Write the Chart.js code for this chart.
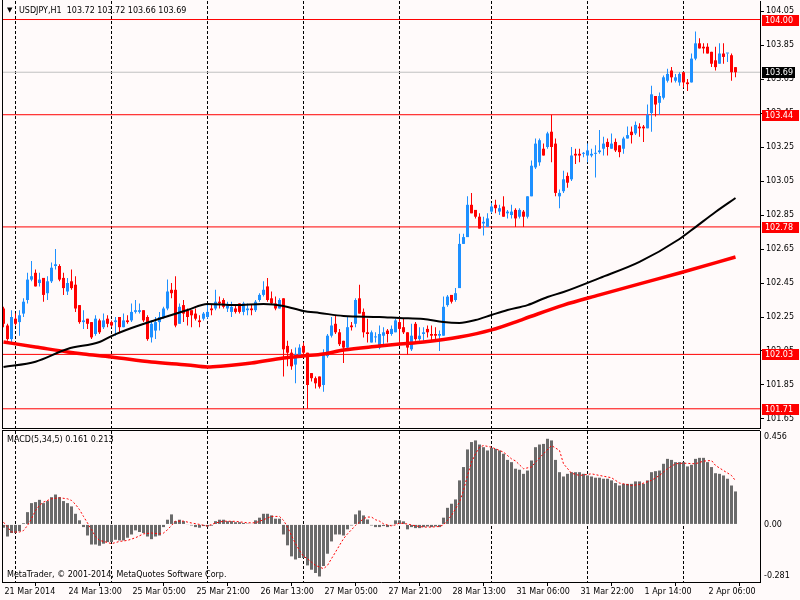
<!DOCTYPE html>
<html>
<head>
<meta charset="utf-8">
<title>USDJPY,H1</title>
<script src="https://cdn.jsdelivr.net/npm/chart.js@4.4.1/dist/chart.umd.min.js"></script>
<style>
  html, body { margin: 0; padding: 0; background: #fffafa; }
  #wrap { position: relative; width: 800px; height: 600px; overflow: hidden; background: #fffafa; font-family: "DejaVu Sans", sans-serif; }
  canvas { position: absolute; left: 0; }
  #main { top: 0; }
  #macd { top: 429px; }
  .lbl { position: absolute; font-size: 8px; line-height: 12px; color: #000; white-space: pre; }
</style>
</head>
<body>
<div id="wrap">
  <canvas id="main" width="800" height="430"></canvas>
  <canvas id="macd" width="800" height="171"></canvas>
  <div class="lbl" style="left:7px;top:4px;font-size:7px">▼</div>
  <div class="lbl" style="left:19px;top:5px">USDJPY,H1  103.72 103.72 103.66 103.69</div>
  <div class="lbl" style="left:7px;top:434px">MACD(5,34,5) 0.161 0.213</div>
  <div class="lbl" style="left:7px;top:569px">MetaTrader, © 2001-2014, MetaQuotes Software Corp.</div>
</div>
<script>
// hourly bars, 21 Mar 2014 20:00 .. 2 Apr 2014 13:00
const opens = [
  102.30,102.20,102.12,102.24,102.22,102.27,102.35,102.47,102.51,102.45,
  102.48,102.39,102.46,102.55,102.55,102.48,102.40,102.46,102.44,102.32,
  102.22,102.24,102.22,102.15,102.23,102.19,102.24,102.22,102.22,102.25,
  102.19,102.23,102.23,102.28,102.28,102.29,102.25,102.13,102.17,102.22,
  102.25,102.30,102.41,102.41,102.21,102.32,102.29,102.29,102.27,102.23,
  102.24,102.25,102.30,102.30,102.34,102.35,102.30,102.28,102.30,102.33,
  102.28,102.29,102.30,102.29,102.35,102.38,102.43,102.36,102.33,102.30,
  102.36,102.08,102.04,101.97,102.02,102.08,102.04,101.92,101.89,101.90,
  101.85,102.02,102.14,102.21,102.16,102.11,102.07,102.20,102.21,102.36,
  102.28,102.16,102.10,102.13,102.07,102.14,102.17,102.15,102.16,102.22,
  102.19,102.16,102.06,102.21,102.12,102.15,102.18,102.15,102.15,102.14,
  102.14,102.32,102.38,102.35,102.42,102.68,102.72,102.91,102.88,102.84,
  102.80,102.78,102.87,102.91,102.87,102.90,102.86,102.85,102.88,102.84,
  102.87,102.84,102.96,103.13,103.16,103.24,103.25,103.34,103.27,102.96,
  102.99,103.08,103.06,103.21,103.21,103.21,103.20,103.20,103.21,103.22,
  103.24,103.28,103.24,103.28,103.26,103.24,103.30,103.34,103.33,103.37,
  103.37,103.36,103.45,103.55,103.51,103.54,103.64,103.70,103.64,103.63,
  103.69,103.63,103.63,103.77,103.86,103.84,103.84,103.81,103.76,103.74,
  103.80,103.80,103.79,103.72
];
const highs = [
  102.31,102.21,102.29,102.27,102.29,102.36,102.51,102.58,102.53,102.51,
  102.48,102.49,102.57,102.65,102.56,102.51,102.48,102.53,102.49,102.32,
  102.29,102.24,102.22,102.26,102.24,102.27,102.26,102.23,102.25,102.25,
  102.27,102.26,102.33,102.35,102.33,102.29,102.26,102.23,102.25,102.28,
  102.31,102.47,102.45,102.49,102.33,102.35,102.30,102.29,102.30,102.26,
  102.28,102.33,102.32,102.41,102.37,102.36,102.34,102.34,102.32,102.33,
  102.34,102.33,102.32,102.35,102.39,102.46,102.48,102.40,102.37,102.36,
  102.36,102.11,102.06,102.07,102.09,102.10,102.04,101.92,101.90,101.90,
  102.06,102.15,102.25,102.26,102.18,102.11,102.25,102.22,102.36,102.44,
  102.30,102.24,102.17,102.16,102.20,102.19,102.18,102.20,102.24,102.24,
  102.24,102.16,102.21,102.22,102.19,102.19,102.20,102.20,102.19,102.17,
  102.37,102.38,102.38,102.42,102.74,102.74,102.96,102.98,102.88,102.86,
  102.84,102.86,102.92,102.94,102.91,102.96,102.88,102.91,102.89,102.89,
  102.88,102.96,103.17,103.30,103.30,103.27,103.34,103.44,103.30,103.00,
  103.11,103.10,103.25,103.24,103.24,103.22,103.27,103.24,103.26,103.35,
  103.31,103.30,103.33,103.30,103.26,103.31,103.37,103.37,103.40,103.39,
  103.38,103.50,103.61,103.55,103.57,103.67,103.71,103.72,103.68,103.69,
  103.69,103.65,103.80,103.93,103.89,103.86,103.86,103.81,103.84,103.86,
  103.86,103.80,103.80,103.72
];
const lows = [
  102.19,102.11,102.10,102.20,102.14,102.25,102.33,102.46,102.43,102.43,
  102.34,102.35,102.45,102.53,102.46,102.38,102.38,102.41,102.28,102.21,
  102.18,102.18,102.12,102.14,102.15,102.18,102.19,102.19,102.14,102.16,
  102.19,102.21,102.22,102.27,102.27,102.22,102.11,102.10,102.12,102.17,
  102.24,102.29,102.36,102.19,102.21,102.22,102.20,102.19,102.23,102.19,
  102.23,102.24,102.26,102.29,102.30,102.30,102.28,102.25,102.27,102.27,
  102.26,102.26,102.26,102.28,102.34,102.37,102.34,102.32,102.29,102.30,
  101.90,101.96,101.94,101.86,102.01,102.03,101.71,101.87,101.83,101.83,
  101.81,102.01,102.13,102.15,102.08,101.98,102.06,102.17,102.19,102.27,
  102.13,102.10,102.10,102.10,102.06,102.08,102.10,102.14,102.16,102.10,
  102.15,102.03,102.05,102.11,102.11,102.11,102.13,102.11,102.11,102.05,
  102.14,102.31,102.33,102.34,102.42,102.68,102.72,102.86,102.83,102.77,
  102.73,102.78,102.86,102.86,102.85,102.84,102.83,102.83,102.78,102.83,
  102.78,102.83,102.96,103.12,103.14,103.20,103.24,103.16,102.96,102.89,
  102.98,103.01,103.05,103.15,103.16,103.19,103.16,103.19,103.07,103.21,
  103.20,103.20,103.24,103.22,103.19,103.21,103.30,103.27,103.32,103.31,
  103.28,103.36,103.34,103.43,103.44,103.53,103.63,103.63,103.63,103.61,
  103.60,103.58,103.63,103.76,103.83,103.80,103.80,103.72,103.70,103.74,
  103.74,103.75,103.64,103.66
];
const closes = [
  102.21,102.12,102.25,102.21,102.26,102.34,102.47,102.49,102.43,102.47,
  102.38,102.46,102.54,102.56,102.47,102.42,102.45,102.42,102.30,102.22,
  102.23,102.21,102.13,102.24,102.16,102.23,102.21,102.20,102.23,102.19,
  102.23,102.22,102.28,102.29,102.29,102.23,102.12,102.21,102.22,102.25,
  102.30,102.40,102.39,102.20,102.31,102.27,102.25,102.26,102.24,102.22,
  102.27,102.28,102.29,102.34,102.33,102.31,102.32,102.31,102.28,102.28,
  102.33,102.30,102.29,102.34,102.38,102.41,102.35,102.33,102.30,102.35,
  102.06,102.04,101.96,102.03,102.07,102.04,101.85,101.89,101.86,101.84,
  102.04,102.14,102.20,102.16,102.09,102.07,102.19,102.19,102.35,102.27,
  102.16,102.15,102.16,102.13,102.15,102.16,102.15,102.18,102.23,102.18,
  102.16,102.07,102.14,102.12,102.14,102.16,102.16,102.14,102.14,102.15,
  102.31,102.37,102.34,102.39,102.68,102.72,102.91,102.86,102.84,102.77,
  102.81,102.83,102.90,102.89,102.89,102.84,102.87,102.87,102.83,102.88,
  102.84,102.96,103.14,103.27,103.29,103.20,103.33,103.25,102.98,102.98,
  103.06,103.04,103.20,103.20,103.20,103.21,103.23,103.21,103.21,103.23,
  103.27,103.25,103.27,103.23,103.22,103.30,103.32,103.32,103.38,103.36,
  103.36,103.44,103.56,103.50,103.55,103.66,103.68,103.66,103.66,103.68,
  103.63,103.62,103.77,103.86,103.83,103.83,103.80,103.74,103.72,103.80,
  103.78,103.80,103.69,103.69
];

// moving averages, read as [bar, price]
const maBlack = [
  [0,101.956],[8,101.987],[16,102.062],[24,102.103],[27,102.138],[32,102.185],
  [38,102.232],[46,102.291],[51,102.326],[58,102.320],[65,102.326],[70,102.315],
  [75,102.285],[79,102.274],[85,102.256],[94,102.250],[99,102.244],[105,102.238],
  [110,102.220],[114,102.215],[118,102.232],[122,102.262],[126,102.291],[131,102.320],
  [136,102.368],[140,102.397],[149,102.479],[159,102.574],[169,102.709],[173,102.779],
  [178,102.868],[183,102.950]
];
const maRed = [
  [0,102.103],[8,102.074],[16,102.044],[20,102.032],[27,102.015],[37,101.985],
  [46,101.968],[51,101.956],[55,101.962],[62,101.979],[70,102.009],[75,102.021],
  [80,102.032],[85,102.056],[94,102.079],[99,102.091],[105,102.103],[114,102.132],
  [122,102.174],[130,102.238],[140,102.320],[149,102.380],[159,102.445],[169,102.509],
  [183,102.603]
];

// MACD(5,34,5)
const macdHist = [
  -0.016,-0.059,-0.042,-0.042,-0.033,0.006,0.060,0.104,0.109,0.120,
  0.104,0.114,0.133,0.146,0.133,0.114,0.104,0.088,0.052,0.020,
  -0.013,-0.054,-0.098,-0.098,-0.104,-0.094,-0.086,-0.086,-0.075,-0.078,
  -0.078,-0.065,-0.049,-0.029,-0.037,-0.042,-0.059,-0.072,-0.059,-0.054,
  -0.013,0.023,0.049,0.016,0.023,0.016,-0.002,-0.005,-0.013,-0.016,
  -0.008,-0.010,-0.006,0.016,0.023,0.023,0.016,0.016,0.011,0.011,
  0.007,0.004,0.003,0.020,0.033,0.052,0.052,0.044,0.028,0.028,
  -0.049,-0.102,-0.156,-0.171,-0.164,-0.164,-0.200,-0.221,-0.237,-0.254,
  -0.203,-0.143,-0.083,-0.049,-0.049,-0.054,-0.024,-0.005,0.049,0.068,
  0.044,0.024,-0.005,-0.013,-0.013,-0.008,-0.013,-0.005,0.020,0.020,
  0.015,-0.024,-0.013,-0.018,-0.018,-0.013,-0.010,-0.013,-0.010,-0.013,
  0.033,0.081,0.101,0.122,0.215,0.280,0.366,0.402,0.410,0.390,
  0.377,0.361,0.374,0.369,0.361,0.345,0.315,0.304,0.272,0.267,
  0.247,0.263,0.312,0.377,0.390,0.393,0.418,0.410,0.315,0.255,
  0.234,0.247,0.255,0.255,0.255,0.247,0.239,0.234,0.228,0.228,
  0.223,0.223,0.215,0.202,0.190,0.198,0.198,0.198,0.210,0.210,
  0.198,0.215,0.255,0.260,0.263,0.296,0.320,0.315,0.304,0.304,
  0.304,0.283,0.291,0.320,0.325,0.325,0.304,0.280,0.250,0.247,
  0.239,0.223,0.190,0.161
];
const macdSignal = [
  [0,0.011],[2,-0.037],[4,-0.037],[5,-0.030],[6,-0.005],[7,0.028],[8,0.068],[9,0.093],
  [10,0.109],[12,0.125],[14,0.130],[16,0.125],[17,0.117],[18,0.098],[19,0.072],[20,0.039],
  [21,0.007],[22,-0.026],[23,-0.059],[24,-0.078],[26,-0.088],[27,-0.094],[29,-0.083],
  [31,-0.078],[33,-0.065],[35,-0.046],[37,-0.042],[39,-0.046],[40,-0.042],[41,-0.026],
  [42,-0.005],[43,0.016],[45,0.016],[47,0.007],[49,0.000],[51,-0.008],[53,0.007],
  [55,0.016],[58,0.015],[61,0.008],[63,0.008],[65,0.023],[67,0.039],[69,0.039],
  [70,0.020],[71,-0.013],[72,-0.054],[73,-0.094],[74,-0.127],[75,-0.156],[76,-0.167],
  [77,-0.184],[78,-0.200],[79,-0.208],[80,-0.216],[81,-0.200],[82,-0.167],[83,-0.135],
  [84,-0.102],[85,-0.070],[86,-0.046],[87,-0.026],[88,-0.005],[89,0.011],[90,0.028],
  [91,0.036],[92,0.036],[93,0.023],[94,0.016],[95,0.003],[96,-0.003],[97,-0.007],
  [98,-0.002],[99,0.007],[101,0.002],[103,-0.007],[105,-0.013],[107,-0.013],[109,-0.010],
  [110,-0.002],[111,0.020],[112,0.044],[113,0.076],[114,0.109],[115,0.166],[116,0.239],
  [117,0.304],[118,0.345],[119,0.377],[120,0.385],[122,0.377],[125,0.353],[127,0.320],
  [128,0.310],[130,0.272],[132,0.280],[133,0.304],[135,0.345],[137,0.385],[139,0.361],
  [140,0.296],[142,0.250],[144,0.239],[147,0.247],[149,0.239],[152,0.228],[154,0.202],
  [157,0.190],[159,0.195],[162,0.215],[164,0.239],[166,0.272],[168,0.296],[170,0.299],
  [173,0.296],[175,0.309],[177,0.312],[178,0.288],[180,0.263],[182,0.239],[183,0.213]
];

const levels = [104.00, 103.44, 102.78, 102.03, 101.71];
const bidPrice = 103.69;
const priceTicks = [104.05,103.85,103.65,103.45,103.25,103.05,102.85,102.65,102.45,102.25,102.05,101.85,101.65];
const priceMin = 101.597, priceMax = 104.109;
const macdMin = -0.281, macdMax = 0.456;
const macdTicks = [0];
const dayStarts = [3, 27, 51, 75, 99, 122, 146, 170];
const dateIdx = [0, 16, 32, 48, 64, 80, 96, 112, 128, 144, 160, 176];
const dateLabels = ['21 Mar 2014','24 Mar 13:00','25 Mar 05:00','25 Mar 21:00','26 Mar 13:00','27 Mar 05:00',
                    '27 Mar 21:00','28 Mar 13:00','31 Mar 06:00','31 Mar 22:00','1 Apr 14:00','2 Apr 06:00'];

const X_MIN = -0.375, X_MAX = 189.125;   // 4px per bar
const BULL = '#1e90ff', BEAR = '#ff0000';
const FONT = {family: 'DejaVu Sans', size: 8};
Chart.defaults.font.family = 'DejaVu Sans';

const bars = opens.map((_, i) => i);
const candleColors = bars.map(i => closes[i] >= opens[i] ? BULL : BEAR);
const pts = arr => arr.map(([x, y]) => ({x, y}));
const hline = v => [{x: X_MIN, y: v}, {x: X_MAX, y: v}];

function fixSize(w, h) {
    return s => {
        if (w != null) s.width = w;
        if (h != null) s.height = h;
        s.paddingTop = s.paddingBottom = s.paddingLeft = s.paddingRight = 0;
    };
}

const dayGridAxis = {
    type: 'linear', min: X_MIN, max: X_MAX, offset: false, bounds: 'data',
    grid: {color: '#000', lineWidth: 1, drawTicks: false, offset: false},
    border: {display: false, dash: [3, 2]},
    ticks: {display: false},
    afterBuildTicks: s => { s.ticks = dayStarts.map(v => ({value: v})); },
    afterFit: fixSize(null, 0)
};

// panel frame: left edge always, top edge for the MACD pane, bottom edge for the price pane
const frame = {
    id: 'frame',
    afterDraw(chart) {
        const {ctx, chartArea: a} = chart;
        const isMain = chart.canvas.id === 'main';
        ctx.save();
        ctx.strokeStyle = '#000';
        ctx.lineWidth = 1;
        ctx.beginPath();
        ctx.moveTo(a.left + 0.5, a.top - 1);
        ctx.lineTo(a.left + 0.5, a.bottom + 0.5);
        if (isMain) {
            ctx.moveTo(a.left, a.bottom + 0.5);
            ctx.lineTo(a.right, a.bottom + 0.5);
        } else {
            ctx.moveTo(a.left, a.top - 0.5);
            ctx.lineTo(a.right, a.top - 0.5);
        }
        ctx.stroke();
        ctx.restore();
    }
};

const priceBoxes = {
    id: 'priceBoxes',
    afterDraw(chart) {
        const {ctx, chartArea: a, scales: {y}} = chart;
        ctx.save();
        ctx.font = '8px "DejaVu Sans"';
        ctx.textBaseline = 'middle';
        const box = (v, fill, w) => {
            const py = Math.round(y.getPixelForValue(v));
            ctx.fillStyle = fill;
            ctx.fillRect(a.right + 2, py - 5, w, 11);
            ctx.fillStyle = '#fff';
            ctx.fillText(v.toFixed(2), a.right + 5, py + 1);
        };
        levels.forEach(v => box(v, '#ff0000', 37));
        box(bidPrice, '#000', 33);
        ctx.restore();
    }
};

const macdEdgeLabels = {
    id: 'macdEdgeLabels',
    afterDraw(chart) {
        const {ctx, chartArea: a} = chart;
        ctx.save();
        ctx.font = '8px "DejaVu Sans"';
        ctx.fillStyle = '#000';
        ctx.textBaseline = 'middle';
        ctx.fillText(macdMax.toFixed(3), a.right + 4, a.top + 6);
        ctx.fillText(macdMin.toFixed(3), a.right + 4, a.bottom - 6);
        ctx.restore();
    }
};

new Chart(document.getElementById('main'), {
    type: 'bar',
    data: {
        datasets: [
            {type: 'line', data: pts(maBlack), borderColor: '#000', borderWidth: 2, pointRadius: 0,
             cubicInterpolationMode: 'monotone', order: 0},
            {type: 'line', data: pts(maRed), borderColor: '#ff0000', borderWidth: 3.5, pointRadius: 0,
             cubicInterpolationMode: 'monotone', order: 1},
            {data: bars.map(i => ({x: i, y: [opens[i], closes[i]]})), backgroundColor: candleColors,
             barThickness: 3, minBarLength: 1, inflateAmount: 0, grouped: false, order: 2},
            {data: bars.map(i => ({x: i, y: [lows[i], highs[i]]})), backgroundColor: candleColors,
             barThickness: 1, inflateAmount: 0, grouped: false, order: 3},
            ...levels.map(v => ({type: 'line', data: hline(v), borderColor: '#ff0000', borderWidth: 1, pointRadius: 0, order: 4})),
            {type: 'line', data: hline(bidPrice), borderColor: '#c0c0c0', borderWidth: 1, pointRadius: 0, order: 5}
        ]
    },
    options: {
        responsive: false,
        animation: false,
        devicePixelRatio: 1,
        events: [],
        layout: {padding: {left: 2, top: 1, right: 0, bottom: 2}},
        plugins: {legend: {display: false}, tooltip: {enabled: false}},
        scales: {
            x: dayGridAxis,
            y: {
                type: 'linear', position: 'right', min: priceMin, max: priceMax,
                beginAtZero: false, bounds: 'data',
                grid: {drawOnChartArea: false, drawTicks: true, tickLength: 4, color: '#000'},
                border: {display: true, color: '#000', width: 1},
                ticks: {font: FONT, color: '#000', padding: 2, autoSkip: false, callback: v => v.toFixed(2)},
                afterBuildTicks: s => { s.ticks = priceTicks.map(v => ({value: v})); },
                afterFit: fixSize(40, null)
            }
        }
    },
    plugins: [frame, priceBoxes]
});

new Chart(document.getElementById('macd'), {
    type: 'bar',
    data: {
        datasets: [
            {type: 'line', data: pts(macdSignal), borderColor: '#ff0000', borderWidth: 1, borderDash: [2, 2],
             pointRadius: 0, xAxisID: 'x', order: 0},
            {data: bars.map(i => ({x: i, y: macdHist[i]})), backgroundColor: '#6a6a6a',
             barThickness: 3, inflateAmount: 0, grouped: false, xAxisID: 'x', order: 1}
        ]
    },
    options: {
        responsive: false,
        animation: false,
        devicePixelRatio: 1,
        events: [],
        layout: {padding: {left: 2, top: 2, right: 0, bottom: 0}},
        plugins: {legend: {display: false}, tooltip: {enabled: false}},
        scales: {
            x: dayGridAxis,
            xl: {
                type: 'linear', position: 'bottom', min: X_MIN, max: X_MAX, offset: false, bounds: 'data',
                grid: {drawOnChartArea: false, drawTicks: true, tickLength: 4, color: '#000'},
                border: {display: true, color: '#000', width: 1},
                ticks: {font: FONT, color: '#000', autoSkip: false, maxRotation: 0, minRotation: 0,
                        align: 'start', padding: 1, labelOffset: 1, callback: (v, i) => dateLabels[i]},
                afterBuildTicks: s => { s.ticks = dateIdx.map(v => ({value: v})); },
                afterFit: fixSize(null, 18)
            },
            y: {
                type: 'linear', position: 'right', min: macdMin, max: macdMax,
                beginAtZero: false, bounds: 'data',
                grid: {drawOnChartArea: false, drawTicks: false},
                border: {display: true, color: '#000', width: 1},
                ticks: {font: FONT, color: '#000', padding: 4, autoSkip: false, callback: v => v.toFixed(2)},
                afterBuildTicks: s => { s.ticks = macdTicks.map(v => ({value: v})); },
                afterFit: fixSize(40, null)
            }
        }
    },
    plugins: [frame, macdEdgeLabels]
});
</script>
</body>
</html>
